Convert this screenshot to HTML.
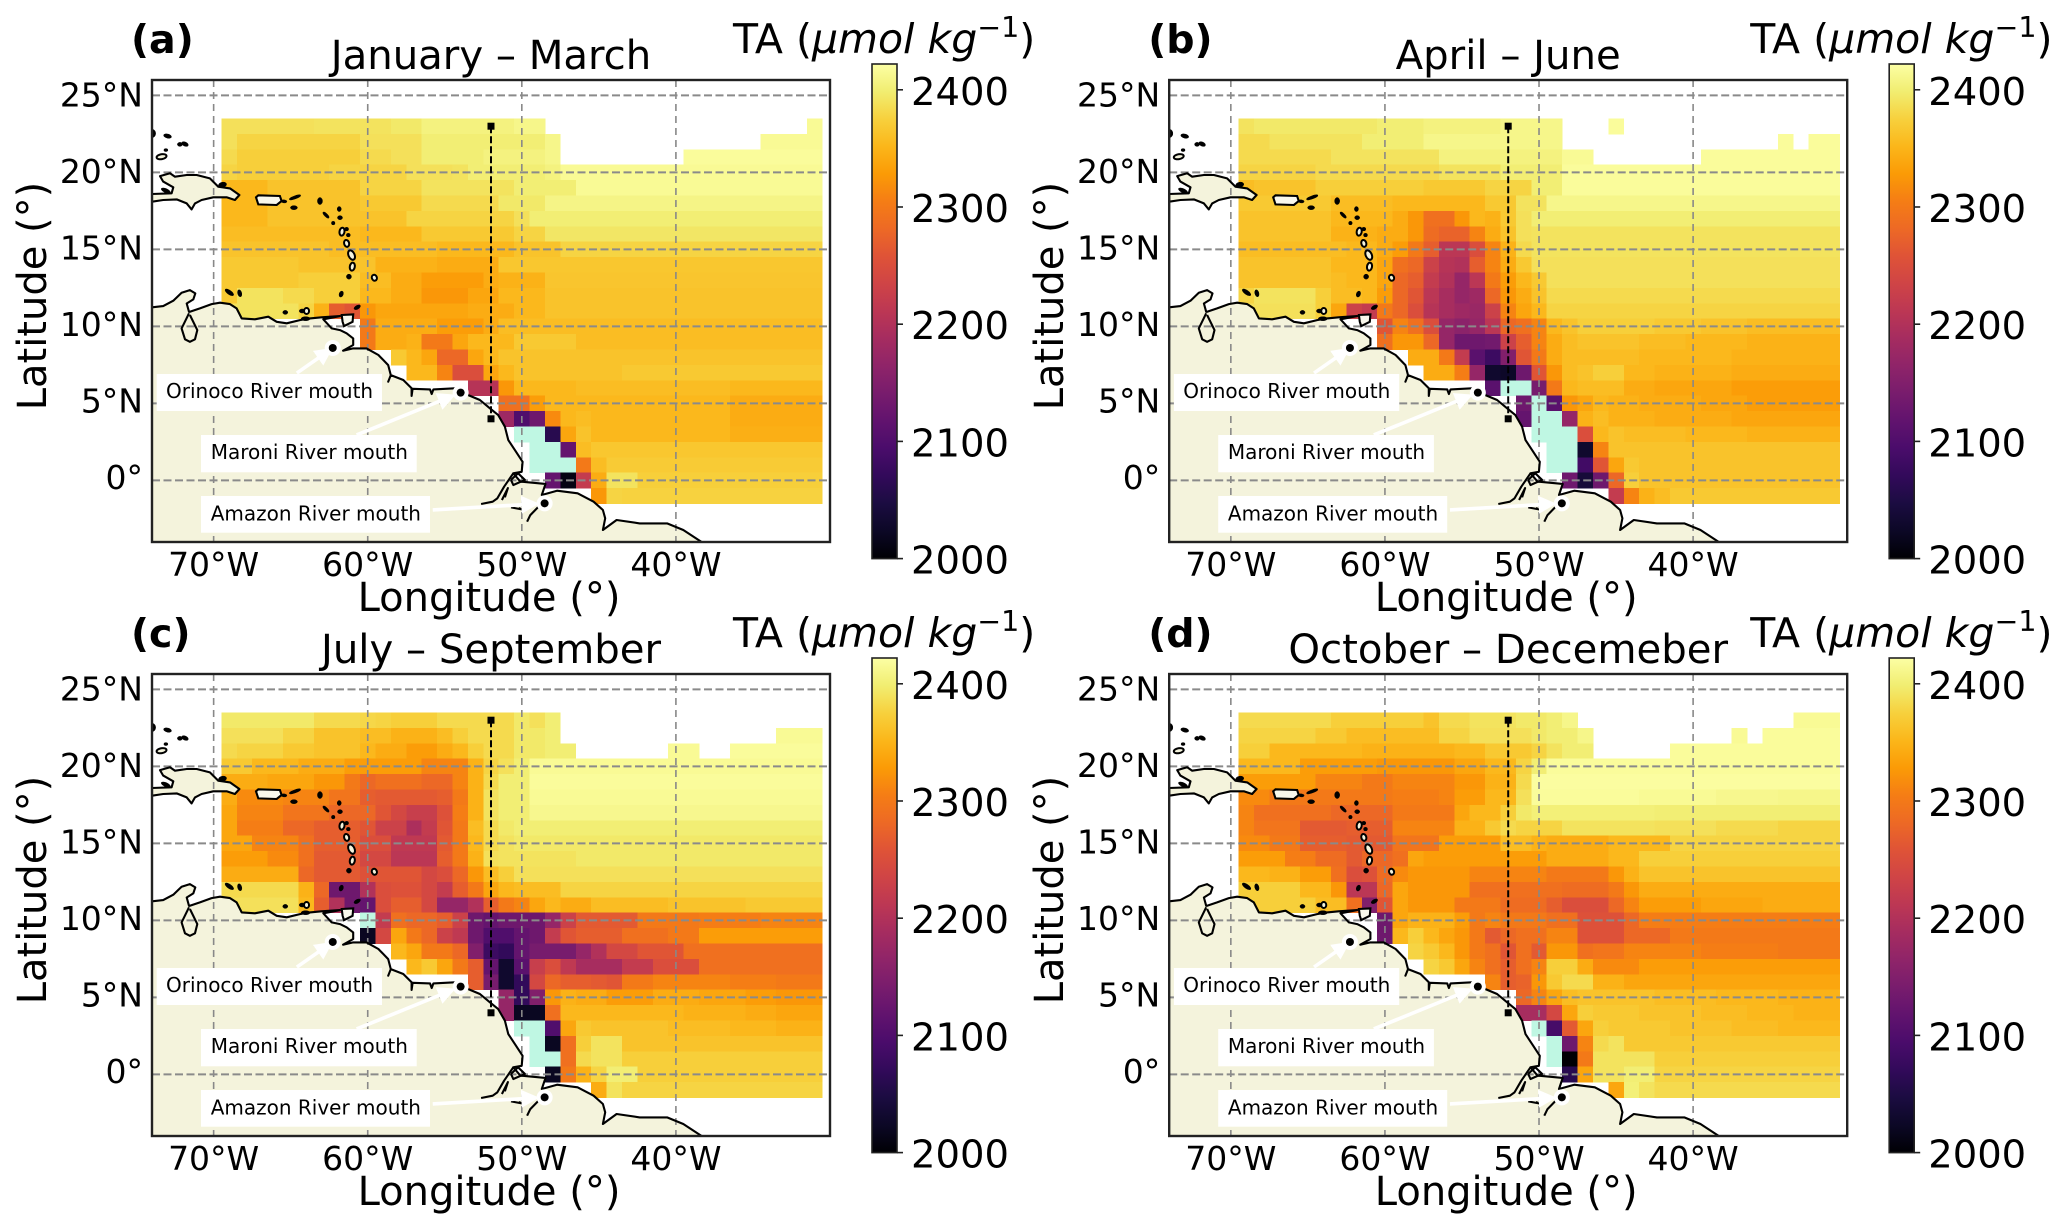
<!DOCTYPE html>
<html><head><meta charset="utf-8"><title>Total alkalinity seasonal maps</title>
<style>html,body{margin:0;padding:0;background:#fff}svg{display:block}text{font-family:"DejaVu Sans","Liberation Sans",sans-serif;fill:#000}</style></head>
<body><svg id="fig" xmlns="http://www.w3.org/2000/svg" width="2067" height="1232" viewBox="0 0 2067 1232"></svg>
<script>
// 0 = no data (white), 1900 = below colour range (pale teal). Rows: lat 23 to -1, columns: lon -69 to -31.
const panelA=[
[2388,2388,2388,2388,2388,2388,2390,2390,2390,2390,2390,2395,2395,2405,2405,2405,2405,2405,2405,2410,2410,0,0,0,0,0,0,0,0,0,0,0,0,0,0,0,0,0,2415],
[2388,2378,2378,2378,2378,2378,2378,2378,2378,2388,2388,2388,2388,2400,2400,2400,2400,2400,2400,2400,2400,2410,0,0,0,0,0,0,0,0,0,0,0,0,0,2415,2415,2415,2415],
[2383,2373,2373,2373,2373,2373,2373,2373,2373,2383,2383,2388,2388,2400,2400,2400,2400,2405,2405,2405,2405,2410,0,0,0,0,0,0,0,0,2418,2418,2418,2418,2418,2418,2418,2418,2418],
[2378,2373,2373,2373,2373,2373,2373,2378,2378,2378,2378,2378,2388,2388,2388,2390,2400,2400,2400,2400,2400,2405,2415,2415,2415,2415,2415,2415,2415,2415,2415,2415,2415,2415,2415,2415,2415,2415,2415],
[2353,2353,2353,2363,2363,2363,2363,2363,2363,2378,2378,2378,2378,2390,2390,2390,2390,2390,2390,2400,2400,2400,2400,2415,2415,2415,2415,2415,2415,2415,2415,2415,2415,2415,2415,2415,2415,2415,2415],
[2353,2353,2353,2363,2363,2363,2363,2363,2363,2368,2368,2368,2368,2383,2383,2383,2383,2383,2395,2395,2395,2408,2408,2408,2408,2408,2408,2408,2408,2408,2408,2408,2408,2408,2408,2408,2408,2408,2408],
[2353,2353,2353,2363,2363,2363,2363,2363,2363,2363,2363,2363,2378,2378,2378,2378,2378,2378,2378,2388,2400,2400,2400,2400,2400,2400,2400,2400,2400,2400,2400,2400,2400,2400,2400,2400,2400,2400,2400],
[2358,2358,2358,2358,2358,2358,2358,2358,2358,2353,2353,2353,2353,2368,2368,2368,2368,2368,2368,2378,2378,2393,2393,2393,2393,2393,2393,2393,2393,2393,2393,2393,2393,2393,2393,2393,2393,2393,2393],
[2363,2363,2363,2363,2363,2363,2363,2358,2358,2358,2358,2358,2358,2358,2353,2353,2353,2353,2353,2363,2363,2363,2378,2378,2378,2378,2378,2378,2378,2378,2378,2378,2378,2378,2378,2378,2378,2378,2378],
[2368,2368,2368,2368,2368,2363,2363,2363,2363,2363,2348,2348,2348,2348,2343,2343,2343,2343,2366,2366,2366,2366,2366,2366,2366,2366,2366,2366,2366,2366,2366,2366,2366,2366,2366,2366,2366,2366,2366],
[2368,2368,2368,2368,2368,2373,2373,2373,2373,2358,2358,2343,2343,2330,2330,2330,2330,2343,2348,2348,2348,2365,2365,2365,2365,2365,2365,2365,2365,2365,2365,2365,2365,2365,2365,2365,2365,2365,2365],
[2368,2390,2390,2390,2383,2383,2373,2373,2373,2353,2353,2343,2343,2325,2325,2325,2338,2338,2353,2353,2353,2363,2363,2363,2363,2363,2363,2363,2363,2363,2363,2363,2363,2363,2363,2363,2363,2363,2363],
[2390,2390,2390,2390,2390,2378,2348,2270,2260,2325,2338,2338,2338,2338,2338,2338,2343,2343,2343,2353,2353,2363,2363,2363,2363,2363,2363,2363,2363,2363,2363,2363,2363,2363,2363,2363,2363,2363,2363],
[0,0,0,0,0,0,0,0,0,2300,2343,2343,2343,2343,2330,2330,2330,2343,2358,2358,2358,2358,2358,2358,2358,2358,2358,2358,2358,2358,2358,2358,2358,2358,2358,2358,2358,2358,2358],
[0,0,0,0,0,0,0,0,0,2300,2343,2343,2348,2300,2300,2338,2353,2353,2353,2368,2368,2368,2368,2358,2358,2358,2358,2358,2358,2358,2358,2358,2358,2358,2358,2358,2358,2358,2358],
[0,0,0,0,0,0,0,0,0,0,0,2368,2353,2338,2280,2280,2338,2353,2363,2363,2363,2363,2363,2363,2363,2363,2363,2363,2363,2363,2363,2363,2363,2363,2363,2363,2363,2363,2363],
[0,0,0,0,0,0,0,0,0,0,0,0,2353,2353,2310,2250,2250,2338,2353,2363,2363,2363,2363,2363,2363,2363,2368,2368,2368,2368,2368,2368,2368,2368,2368,2368,2368,2368,2368],
[0,0,0,0,0,0,0,0,0,0,0,0,0,0,0,0,2205,2205,2325,2353,2353,2353,2353,2358,2358,2358,2358,2358,2358,2358,2358,2358,2358,2353,2353,2353,2353,2353,2353],
[0,0,0,0,0,0,0,0,0,0,0,0,0,0,0,0,0,0,2290,2290,2330,2353,2353,2353,2353,2353,2353,2353,2353,2353,2353,2353,2353,2343,2343,2343,2343,2343,2343],
[0,0,0,0,0,0,0,0,0,0,0,0,0,0,0,0,0,0,2180,2100,2130,2315,2353,2358,2353,2353,2353,2353,2353,2353,2353,2353,2353,2343,2343,2343,2343,2343,2343],
[0,0,0,0,0,0,0,0,0,0,0,0,0,0,0,0,0,0,0,1900,1900,2060,2338,2363,2353,2353,2353,2353,2353,2353,2353,2353,2353,2346,2346,2346,2346,2346,2346],
[0,0,0,0,0,0,0,0,0,0,0,0,0,0,0,0,0,0,0,0,1900,1900,2120,2358,2366,2366,2366,2366,2366,2366,2366,2366,2366,2366,2366,2366,2366,2366,2366],
[0,0,0,0,0,0,0,0,0,0,0,0,0,0,0,0,0,0,0,0,1900,1900,1900,2300,2358,2370,2370,2370,2370,2370,2370,2370,2370,2370,2370,2370,2370,2370,2370],
[0,0,0,0,0,0,0,0,0,0,0,0,0,0,0,0,0,0,0,0,0,2120,2010,2220,2343,2390,2390,2373,2373,2373,2373,2373,2373,2373,2373,2373,2373,2373,2373],
[0,0,0,0,0,0,0,0,0,0,0,0,0,0,0,0,0,0,0,0,0,0,0,0,2325,2378,2376,2376,2376,2376,2376,2376,2376,2376,2376,2376,2376,2376,2376]
];
const panelB=[
[2390,2395,2395,2395,2395,2395,2395,2395,2395,2400,2400,2400,2405,2405,2405,2405,2405,2410,2410,2410,2410,0,0,0,2418,0,0,0,0,0,0,0,0,0,0,0,0,0,0],
[2383,2383,2390,2390,2390,2390,2390,2390,2400,2400,2400,2400,2410,2410,2410,2410,2410,2410,2410,2410,2410,0,0,0,0,0,0,0,0,0,0,0,0,0,0,2418,0,2418,2418],
[2383,2383,2383,2383,2383,2383,2390,2390,2390,2390,2390,2390,2390,2405,2405,2405,2405,2405,2405,2405,2405,2415,2415,0,0,0,0,0,0,0,2418,2418,2418,2418,2418,2418,2418,2418,2418],
[2378,2378,2378,2378,2378,2383,2383,2383,2383,2383,2383,2383,2383,2390,2390,2390,2390,2400,2400,2400,2400,2418,2418,2418,2418,2418,2418,2418,2418,2418,2418,2418,2418,2418,2418,2418,2418,2418,2418],
[2358,2363,2363,2363,2363,2373,2373,2373,2373,2373,2373,2373,2368,2368,2368,2368,2378,2378,2378,2400,2400,2418,2418,2418,2418,2418,2418,2418,2418,2418,2418,2418,2418,2418,2418,2418,2418,2418,2418],
[2368,2368,2368,2368,2368,2368,2358,2358,2358,2358,2353,2353,2353,2353,2353,2353,2368,2368,2390,2390,2410,2410,2410,2410,2410,2410,2410,2410,2410,2410,2410,2410,2410,2410,2410,2410,2410,2410,2410],
[2363,2363,2363,2363,2363,2363,2353,2353,2353,2353,2343,2325,2290,2290,2325,2353,2348,2368,2388,2400,2400,2400,2400,2400,2400,2400,2400,2400,2400,2400,2400,2400,2400,2400,2400,2400,2400,2400,2400],
[2363,2363,2363,2363,2363,2363,2348,2348,2348,2343,2343,2325,2285,2275,2275,2310,2343,2363,2388,2390,2390,2390,2390,2390,2390,2390,2390,2390,2390,2390,2390,2390,2390,2390,2390,2390,2390,2390,2390],
[2358,2358,2358,2358,2358,2358,2358,2353,2353,2343,2330,2300,2270,2210,2210,2250,2310,2348,2383,2390,2390,2390,2390,2390,2390,2390,2390,2390,2390,2390,2390,2390,2390,2390,2390,2390,2390,2390,2390],
[2363,2363,2363,2363,2363,2363,2353,2353,2353,2338,2290,2280,2230,2205,2200,2270,2310,2343,2368,2388,2388,2388,2388,2388,2388,2388,2388,2388,2388,2388,2388,2388,2388,2388,2388,2388,2388,2388,2388],
[2363,2363,2363,2363,2363,2363,2358,2353,2353,2338,2280,2270,2220,2200,2170,2210,2300,2330,2353,2368,2388,2388,2388,2388,2388,2388,2388,2388,2388,2388,2388,2388,2388,2388,2388,2388,2388,2388,2388],
[2378,2390,2390,2390,2390,2373,2358,2358,2353,2330,2280,2260,2210,2190,2170,2180,2280,2325,2343,2363,2383,2383,2383,2383,2383,2383,2383,2383,2383,2383,2383,2383,2383,2383,2383,2383,2383,2383,2383],
[2388,2388,2388,2388,2388,2373,2338,2230,2220,2300,2280,2250,2205,2190,2180,2175,2230,2310,2338,2353,2378,2378,2378,2378,2378,2378,2378,2378,2378,2378,2378,2378,2378,2378,2378,2378,2378,2378,2378],
[0,0,0,0,0,0,0,0,0,2260,2310,2290,2250,2170,2160,2170,2210,2280,2290,2310,2353,2363,2373,2373,2373,2373,2373,2368,2368,2368,2363,2363,2363,2358,2358,2358,2358,2358,2358],
[0,0,0,0,0,0,0,0,0,2290,2325,2325,2280,2170,2130,2130,2135,2230,2270,2310,2343,2358,2363,2363,2363,2363,2358,2358,2358,2353,2353,2353,2353,2348,2348,2348,2348,2348,2348],
[0,0,0,0,0,0,0,0,0,0,0,2343,2343,2300,2220,2110,2080,2150,2260,2300,2343,2358,2358,2358,2358,2358,2353,2353,2353,2353,2353,2353,2348,2348,2348,2348,2348,2348,2348],
[0,0,0,0,0,0,0,0,0,0,0,0,2343,2343,2305,2170,2030,2025,2130,2260,2325,2358,2363,2373,2373,2353,2353,2348,2348,2348,2348,2348,2343,2343,2343,2343,2343,2343,2343],
[0,0,0,0,0,0,0,0,0,0,0,0,0,0,0,0,2110,1900,1900,2140,2300,2353,2358,2358,2358,2343,2343,2338,2338,2338,2338,2338,2330,2330,2330,2330,2330,2330,2330],
[0,0,0,0,0,0,0,0,0,0,0,0,0,0,0,0,0,0,2130,1900,2110,2325,2338,2353,2348,2348,2343,2343,2343,2343,2338,2338,2338,2330,2330,2330,2330,2330,2330],
[0,0,0,0,0,0,0,0,0,0,0,0,0,0,0,0,0,0,2120,1900,1900,2170,2348,2358,2348,2348,2348,2343,2343,2343,2343,2343,2338,2338,2338,2338,2338,2338,2338],
[0,0,0,0,0,0,0,0,0,0,0,0,0,0,0,0,0,0,0,1900,1900,1900,2250,2353,2363,2358,2358,2358,2358,2353,2353,2353,2353,2348,2348,2348,2348,2348,2348],
[0,0,0,0,0,0,0,0,0,0,0,0,0,0,0,0,0,0,0,0,1900,1900,2030,2310,2363,2363,2363,2363,2363,2363,2363,2363,2363,2363,2363,2363,2363,2363,2363],
[0,0,0,0,0,0,0,0,0,0,0,0,0,0,0,0,0,0,0,0,1900,1900,2085,2260,2338,2368,2363,2363,2363,2363,2363,2363,2363,2363,2363,2363,2363,2363,2363],
[0,0,0,0,0,0,0,0,0,0,0,0,0,0,0,0,0,0,0,0,0,2130,2040,2130,2280,2373,2363,2363,2363,2363,2363,2363,2363,2363,2363,2363,2363,2363,2363],
[0,0,0,0,0,0,0,0,0,0,0,0,0,0,0,0,0,0,0,0,0,0,0,0,2220,2310,2348,2358,2368,2368,2368,2368,2368,2368,2368,2368,2368,2368,2368]
];
const panelC=[
[2395,2395,2395,2395,2395,2395,2383,2383,2383,2380,2378,2373,2373,2373,2383,2383,2383,2383,2383,2395,2388,2400,0,0,0,0,0,0,0,0,0,0,0,0,0,0,0,0,0],
[2388,2388,2388,2388,2378,2378,2363,2363,2363,2358,2358,2348,2348,2348,2358,2373,2383,2383,2383,2395,2395,2400,0,0,0,0,0,0,0,0,0,0,0,0,0,0,2415,2415,2415],
[2383,2378,2378,2378,2368,2368,2363,2363,2363,2353,2343,2343,2330,2330,2343,2353,2373,2383,2383,2395,2395,2400,2400,0,0,0,0,0,0,2415,2415,0,0,2418,2418,2418,2418,2418,2418],
[2368,2368,2353,2353,2353,2343,2343,2343,2330,2330,2330,2330,2330,2310,2310,2310,2348,2378,2388,2400,2415,2415,2415,2415,2415,2415,2415,2415,2415,2415,2415,2415,2415,2415,2415,2415,2415,2415,2415],
[2343,2343,2343,2338,2338,2338,2325,2325,2300,2280,2290,2290,2290,2280,2280,2310,2348,2383,2400,2400,2418,2418,2418,2418,2418,2418,2418,2418,2418,2418,2418,2418,2418,2418,2418,2418,2418,2418,2418],
[2343,2315,2315,2315,2310,2310,2310,2295,2295,2270,2265,2265,2265,2265,2270,2300,2348,2390,2400,2400,2415,2415,2415,2415,2415,2415,2415,2415,2415,2415,2415,2415,2415,2415,2415,2415,2415,2415,2415],
[2338,2310,2310,2310,2295,2295,2295,2280,2280,2280,2260,2240,2225,2225,2255,2305,2348,2390,2400,2400,2412,2412,2412,2412,2412,2412,2412,2412,2412,2412,2412,2412,2412,2412,2412,2412,2412,2412,2412],
[2338,2305,2305,2305,2280,2280,2270,2270,2270,2260,2230,2230,2195,2220,2260,2300,2358,2383,2395,2400,2400,2400,2400,2400,2400,2400,2400,2400,2400,2400,2400,2400,2400,2400,2400,2400,2400,2400,2400],
[2338,2338,2310,2310,2310,2290,2270,2270,2270,2250,2250,2215,2215,2215,2265,2300,2353,2383,2390,2395,2395,2395,2395,2395,2395,2395,2395,2395,2395,2395,2395,2395,2395,2395,2395,2395,2395,2395,2395],
[2330,2330,2330,2315,2315,2290,2265,2265,2265,2240,2240,2210,2210,2210,2270,2300,2348,2388,2390,2390,2390,2390,2390,2395,2395,2395,2395,2395,2395,2395,2395,2395,2395,2395,2395,2395,2395,2395,2395],
[2343,2343,2343,2343,2343,2280,2265,2265,2265,2255,2260,2260,2260,2240,2250,2280,2325,2358,2373,2388,2388,2388,2388,2388,2388,2388,2388,2388,2388,2388,2388,2388,2388,2388,2388,2388,2388,2388,2388],
[2383,2383,2383,2383,2383,2348,2280,2130,2130,2200,2250,2255,2255,2240,2220,2270,2300,2338,2353,2358,2358,2358,2378,2378,2378,2378,2378,2378,2378,2378,2378,2378,2378,2378,2378,2378,2378,2378,2378],
[2388,2388,2388,2388,2388,2353,2270,2200,2130,2120,2250,2270,2270,2240,2170,2170,2200,2270,2300,2310,2338,2353,2343,2343,2358,2358,2358,2358,2358,2363,2363,2363,2363,2363,2368,2368,2368,2368,2368],
[0,0,0,0,0,0,0,0,0,1900,2220,2290,2280,2280,2270,2230,2130,2120,2130,2130,2130,2170,2230,2265,2265,2265,2265,2300,2300,2300,2300,2305,2305,2305,2305,2310,2310,2310,2310],
[0,0,0,0,0,0,0,0,0,2020,2240,2338,2300,2280,2230,2215,2130,2100,2100,2120,2130,2220,2260,2270,2270,2270,2290,2290,2290,2300,2300,2330,2330,2330,2330,2330,2330,2330,2330],
[0,0,0,0,0,0,0,0,0,0,0,2353,2338,2300,2300,2280,2150,2080,2070,2120,2140,2140,2140,2170,2200,2240,2240,2260,2260,2260,2290,2290,2290,2290,2290,2290,2290,2290,2290],
[0,0,0,0,0,0,0,0,0,0,0,0,2353,2368,2338,2300,2270,2120,2030,2110,2225,2250,2215,2190,2190,2190,2220,2220,2250,2250,2250,2290,2290,2290,2290,2290,2290,2290,2290],
[0,0,0,0,0,0,0,0,0,0,0,0,0,0,0,0,2270,2140,2030,2070,2240,2280,2270,2270,2265,2260,2300,2300,2310,2310,2310,2310,2310,2305,2305,2305,2300,2300,2300],
[0,0,0,0,0,0,0,0,0,0,0,0,0,0,0,0,0,0,2170,2070,2150,2325,2348,2343,2343,2330,2330,2330,2343,2343,2343,2338,2338,2338,2330,2330,2325,2325,2325],
[0,0,0,0,0,0,0,0,0,0,0,0,0,0,0,0,0,0,2170,2020,2020,2290,2353,2353,2353,2353,2353,2353,2353,2353,2348,2348,2348,2348,2343,2343,2338,2338,2338],
[0,0,0,0,0,0,0,0,0,0,0,0,0,0,0,0,0,0,0,1900,1900,2100,2338,2368,2363,2363,2363,2363,2363,2358,2358,2358,2358,2353,2353,2353,2348,2348,2348],
[0,0,0,0,0,0,0,0,0,0,0,0,0,0,0,0,0,0,0,0,1900,2020,2290,2373,2390,2390,2363,2363,2363,2363,2363,2363,2363,2363,2363,2363,2363,2363,2363],
[0,0,0,0,0,0,0,0,0,0,0,0,0,0,0,0,0,0,0,0,1900,1900,2290,2383,2390,2390,2373,2373,2373,2373,2373,2373,2373,2373,2373,2373,2373,2373,2373],
[0,0,0,0,0,0,0,0,0,0,0,0,0,0,0,0,0,0,0,0,0,2020,2300,2348,2378,2400,2400,2373,2373,2373,2373,2373,2373,2373,2373,2373,2373,2373,2373],
[0,0,0,0,0,0,0,0,0,0,0,0,0,0,0,0,0,0,0,0,0,0,0,0,2343,2390,2378,2378,2378,2378,2378,2378,2378,2378,2378,2378,2378,2378,2378]
];
const panelD=[
[2383,2383,2383,2383,2383,2383,2373,2373,2373,2373,2373,2373,2363,2383,2383,2390,2390,2390,2395,2395,2400,2410,0,0,0,0,0,0,0,0,0,0,0,0,0,0,2415,2415,2415],
[2378,2378,2378,2378,2378,2368,2368,2358,2358,2358,2358,2358,2358,2378,2378,2388,2388,2388,2388,2395,2400,2400,2410,0,0,0,0,0,0,0,0,0,2415,0,2418,2418,2418,2418,2418],
[2373,2373,2353,2353,2353,2353,2353,2353,2348,2348,2348,2348,2348,2348,2353,2353,2368,2368,2368,2378,2390,2400,2400,0,0,0,0,0,2418,2418,2418,2418,2418,2418,2418,2418,2418,2418,2418],
[2353,2353,2353,2353,2330,2330,2330,2330,2330,2325,2325,2325,2325,2325,2338,2338,2353,2353,2378,2400,2418,2418,2418,2418,2418,2418,2418,2418,2418,2418,2418,2418,2418,2418,2418,2418,2418,2418,2418],
[2330,2330,2330,2330,2330,2310,2310,2310,2300,2300,2310,2310,2310,2310,2325,2325,2348,2348,2383,2420,2420,2420,2420,2420,2420,2420,2420,2420,2420,2420,2420,2420,2420,2420,2420,2420,2420,2420,2420],
[2315,2315,2300,2300,2300,2300,2300,2300,2300,2300,2305,2305,2305,2310,2330,2330,2353,2353,2388,2418,2418,2418,2418,2418,2418,2418,2415,2415,2415,2415,2415,2412,2412,2412,2412,2410,2410,2410,2410],
[2310,2290,2290,2290,2290,2290,2280,2280,2280,2280,2300,2300,2300,2300,2338,2353,2353,2373,2395,2402,2402,2402,2402,2402,2402,2402,2402,2400,2400,2400,2400,2400,2400,2400,2400,2400,2400,2400,2400],
[2310,2295,2295,2295,2265,2265,2265,2270,2270,2270,2310,2310,2310,2310,2348,2348,2368,2383,2378,2378,2378,2390,2390,2390,2390,2390,2390,2388,2388,2388,2388,2383,2383,2383,2383,2378,2378,2378,2378],
[2315,2315,2300,2300,2270,2270,2270,2265,2265,2265,2295,2295,2295,2330,2330,2330,2330,2358,2358,2348,2343,2343,2343,2343,2353,2353,2353,2353,2378,2378,2378,2378,2378,2378,2378,2378,2378,2378,2378],
[2330,2330,2330,2305,2305,2285,2285,2265,2280,2280,2290,2338,2330,2330,2330,2330,2330,2330,2330,2330,2343,2343,2343,2343,2353,2353,2373,2373,2373,2373,2373,2373,2373,2373,2373,2373,2373,2373,2373],
[2353,2353,2348,2348,2330,2330,2290,2250,2255,2285,2315,2325,2325,2325,2325,2310,2310,2310,2310,2310,2300,2300,2300,2300,2325,2348,2363,2363,2363,2363,2363,2363,2363,2363,2363,2363,2363,2363,2363],
[2373,2373,2373,2373,2353,2353,2325,2210,2210,2280,2338,2325,2325,2325,2325,2290,2290,2290,2290,2290,2290,2285,2285,2285,2300,2325,2343,2343,2343,2343,2343,2343,2343,2343,2343,2343,2343,2343,2343],
[2373,2373,2373,2373,2373,2358,2358,2290,2150,2260,2338,2325,2325,2325,2300,2300,2300,2285,2285,2285,2270,2250,2250,2250,2280,2310,2330,2330,2330,2330,2338,2338,2338,2338,2343,2343,2343,2343,2343],
[0,0,0,0,0,0,0,0,0,2130,2338,2348,2348,2348,2330,2300,2310,2300,2300,2300,2290,2290,2255,2255,2255,2280,2305,2305,2305,2305,2305,2305,2305,2305,2305,2305,2305,2305,2305],
[0,0,0,0,0,0,0,0,0,2130,2353,2373,2353,2338,2325,2300,2265,2280,2290,2290,2310,2310,2255,2255,2255,2280,2280,2280,2300,2300,2300,2300,2300,2300,2300,2300,2300,2300,2300],
[0,0,0,0,0,0,0,0,0,0,0,2378,2368,2353,2325,2300,2290,2260,2290,2265,2325,2325,2290,2295,2295,2310,2310,2310,2310,2310,2305,2305,2305,2305,2305,2300,2300,2300,2300],
[0,0,0,0,0,0,0,0,0,0,0,0,2378,2368,2338,2310,2290,2270,2290,2310,2373,2373,2343,2315,2315,2315,2330,2330,2330,2330,2330,2330,2330,2330,2330,2330,2330,2330,2330],
[0,0,0,0,0,0,0,0,0,0,0,0,0,0,0,0,2310,2270,2275,2325,2368,2383,2383,2348,2348,2338,2338,2338,2338,2338,2338,2338,2338,2338,2338,2338,2338,2338,2338],
[0,0,0,0,0,0,0,0,0,0,0,0,0,0,0,0,0,0,2280,2310,2338,2358,2363,2363,2363,2363,2363,2358,2358,2358,2358,2353,2353,2353,2353,2348,2348,2348,2348],
[0,0,0,0,0,0,0,0,0,0,0,0,0,0,0,0,0,0,2190,2190,2240,2338,2373,2368,2368,2368,2363,2363,2363,2363,2358,2358,2358,2353,2353,2353,2348,2348,2348],
[0,0,0,0,0,0,0,0,0,0,0,0,0,0,0,0,0,0,0,1900,2090,2265,2338,2373,2368,2368,2368,2368,2363,2363,2363,2363,2358,2358,2358,2353,2353,2353,2353],
[0,0,0,0,0,0,0,0,0,0,0,0,0,0,0,0,0,0,0,0,1900,2130,2310,2383,2390,2368,2368,2368,2368,2368,2368,2368,2368,2368,2368,2368,2368,2368,2368],
[0,0,0,0,0,0,0,0,0,0,0,0,0,0,0,0,0,0,0,0,1900,2000,2300,2390,2390,2390,2390,2373,2373,2373,2373,2373,2373,2373,2373,2373,2373,2373,2373],
[0,0,0,0,0,0,0,0,0,0,0,0,0,0,0,0,0,0,0,0,0,2060,2338,2390,2390,2400,2400,2378,2378,2378,2378,2378,2378,2378,2378,2378,2378,2378,2378],
[0,0,0,0,0,0,0,0,0,0,0,0,0,0,0,0,0,0,0,0,0,0,0,0,2338,2402,2390,2383,2383,2383,2383,2383,2383,2383,2383,2383,2383,2383,2383]
];
const panelLetters=['(a)','(b)','(c)','(d)'];
const panelTitles=['January \u2013 March','April \u2013 June','July \u2013 September','October \u2013 Decemeber'];
const latTicks=[25,20,15,10,5,0];
const latTickLabels=['25\u00B0N','20\u00B0N','15\u00B0N','10\u00B0N','5\u00B0N','0\u00B0'];
const lonTicks=[-70,-60,-50,-40];
const lonTickLabels=['70\u00B0W','60\u00B0W','50\u00B0W','40\u00B0W'];
const colorTicks=[2000,2100,2200,2300,2400];
const riverNames=['Orinoco River mouth','Maroni River mouth','Amazon River mouth'];
const riverMouths=[[-62.27,8.6],[-53.97,5.7],[-48.52,-1.49]];
const riverArrowStarts=[[-64.6,6.97],[-60.72,2.95],[-55.78,-1.92]];
const transectLon=-52, transectLats=[23,4];
const infernoStops=['#000004','#0c0826','#1b0c41','#320a5a','#4a0c6b','#61136e','#781c6d','#8f2469','#a52c60','#bc3754','#cf4446','#df5337','#ed6925','#f57d15','#fb9b06','#fbb61a','#f7d13d','#f1ed71','#fcffa4'];
const mainCoast=[[-74,11.24],[-73.27,11.32],[-72.62,11.67],[-72.08,12.19],[-71.54,12.36],[-71.19,12.14],[-71.32,11.75],[-71.75,11.49],[-71.6,10.95],[-71.54,10.95],[-70.89,11.17],[-70.13,11.45],[-69.59,11.54],[-68.94,11.45],[-68.51,11.17],[-68.18,10.52],[-67.32,10.46],[-66.45,10.63],[-65.91,10.3],[-65.26,10.2],[-64.4,10.41],[-63.75,10.52],[-63,10.59],[-61.8,10.67],[-62.88,10.46],[-62.34,9.87],[-61.8,9.76],[-61.37,9.55],[-60.94,9.22],[-60.94,8.79],[-61.6,8.42],[-60.94,8.57],[-60.07,8.57],[-59.31,8.14],[-58.67,7.49],[-58.5,6.84],[-58.67,6.41],[-58.5,6.84],[-57.69,6.52],[-57.15,5.98],[-57.15,5.48],[-57.09,5.95],[-55.96,5.91],[-55.85,5.61],[-55.74,5.91],[-54.34,5.98],[-53.47,5.54],[-52.72,5.22],[-52.07,4.68],[-51.53,4.24],[-51.1,3.49],[-50.88,2.62],[-50.45,1.97],[-49.95,1.21],[-50.01,0.56],[-50.55,0.46],[-50.1,-0.08],[-48.46,-0.23],[-48.7,-0.95],[-47.72,-0.67],[-46.38,-0.84],[-45.34,-1.38],[-44.74,-1.92],[-44.59,-2.46],[-44.74,-3.22],[-43.85,-2.57],[-42.35,-2.79],[-40.57,-2.79],[-39.52,-3.22],[-38.33,-4]];
const landCorners=[[-38.33,-4],[-74,-4]];
const maracaibo=[[-71.6,10.85],[-72.08,9.87],[-71.86,9.16],[-71.54,9],[-71.21,9.16],[-71.06,9.76],[-71.54,10.74]];
const deltaLines=[[[-50.55,0.46],[-51.15,-0.41],[-51.59,-1.17],[-51.89,-1.38],[-52.64,-1.53]],[[-50.7,0.03],[-50.25,0.46],[-49.8,0.03],[-50.55,-0.3],[-50.7,0.03]],[[-51.29,-1.27],[-50.9,-0.5],[-51.1,-1.1]],[[-50.7,-1.75],[-49.8,-1.92],[-50.2,-1.8]],[[-48.91,-1.7],[-49.45,-2.25],[-49.66,-2.68]]];
const hispaniola=[[-74,18.6],[-72.73,18.64],[-72.62,19.03],[-73.27,19.4],[-73.48,19.76],[-72.83,19.94],[-72.51,19.72],[-71.75,19.83],[-71.1,19.83],[-70.24,19.61],[-69.7,19.07],[-68.94,18.96],[-68.33,18.53],[-68.62,18.21],[-69.16,18.38],[-70.02,18.38],[-70.78,18.21],[-71.21,17.99],[-71.43,17.6],[-71.75,17.99],[-72.4,18.25],[-73.27,18.21],[-74,18.1]];
const puertoRico=[[-67.25,18.38],[-67.1,18.51],[-65.7,18.47],[-65.59,18.14],[-65.91,17.88],[-67.1,17.92]];
const trinidad=[[-61.69,10.74],[-60.94,10.78],[-60.98,10.3],[-61.54,10.02],[-61.63,10.3]];
// [lon, lat, half-length px, half-width px, rotation deg, outlined?]
const smallIslands=[[-73.96,22.53,3,4,0,0],[-72.99,22.36,4,2,15,0],[-72.19,21.82,2.5,2,0,0],[-71.86,21.84,3.5,2,25,0],[-73.38,21.02,5,2.5,-10,1],[-73.1,21.45,2,1.5,0,0],[-69.42,19.2,4,2.5,-10,0],[-73.1,18.81,5,2,25,0],[-65.44,18.12,3,1.5,5,0],[-64.72,18.38,6,1.5,-20,0],[-64.79,17.71,3.5,2,0,0],[-63.1,18.14,2.5,3.5,0,0],[-61.85,17.62,2,2.5,0,0],[-62.71,17.23,4,1.5,45,0],[-61.8,17.06,2.5,2,0,0],[-62.24,16.71,1.8,1.8,0,0],[-61.67,16.15,2.5,4,10,1],[-61.37,16.32,2,1.8,0,0],[-61.26,15.93,2,1.8,0,0],[-61.37,15.39,2.5,3.5,-15,1],[-61.05,14.63,3,5,-25,1],[-61,13.88,2.5,4,10,1],[-61.22,13.23,2.5,2.5,0,0],[-59.57,13.16,2.5,3,-20,1],[-61.72,12.1,2,3,20,0],[-68.98,12.21,5,2,35,0],[-68.31,12.15,2,3.5,-15,0],[-65.35,10.91,2.5,2,0,0],[-64.25,11,3,2,0,0],[-63.97,11,2.5,3,0,1],[-60.68,11.24,3.5,1.8,-30,0],[-64.03,10.5,4.5,2,0,0]];

const SVGNS='http://www.w3.org/2000/svg';
const lonMin=-74,lonMax=-30,latMin=-4,latMax=26,axW=678,axH=462;
const cbMin=2000,cbMax=2422,cbY0=-16,cbH=494.6,cbX=720,cbW=25;
const origins=[[152,80],[1169.2,80],[152,674],[1169.2,674]];
const xOf=lon=>(lon-lonMin)/(lonMax-lonMin)*axW;
const yOf=lat=>(latMax-lat)/(latMax-latMin)*axH;
const cbOf=v=>cbY0+cbH*(cbMax-v)/(cbMax-cbMin);
function hex(c){return[parseInt(c.slice(1,3),16),parseInt(c.slice(3,5),16),parseInt(c.slice(5,7),16)];}
function inferno(t){t=Math.max(0,Math.min(1,t));const p=t*(infernoStops.length-1),i=Math.min(Math.floor(p),infernoStops.length-2),f=p-i,a=hex(infernoStops[i]),b=hex(infernoStops[i+1]);return'rgb('+a.map((v,k)=>Math.round(v+(b[k]-v)*f)).join(',')+')';}
function colorOf(v){return v<cbMin?'#bff7e3':inferno((v-cbMin)/(cbMax-cbMin));}
function mk(tag,attrs,parent,name){
  const el=document.createElementNS(SVGNS,tag);
  for(const k in attrs)el.setAttribute(k,attrs[k]);
  
  
  parent.appendChild(el);
  return el;
}
function pts(a){return a.map(p=>xOf(p[0]).toFixed(1)+','+yOf(p[1]).toFixed(1)).join(' ');}
const fig=document.getElementById('fig');
const defs=document.createElementNS(SVGNS,'defs');
fig.appendChild(defs);
const grad=document.createElementNS(SVGNS,'linearGradient');
grad.setAttribute('id','cbGrad');grad.setAttribute('x1','0');grad.setAttribute('y1','1');grad.setAttribute('x2','0');grad.setAttribute('y2','0');
infernoStops.forEach((c,i)=>{const s=document.createElementNS(SVGNS,'stop');s.setAttribute('offset',i/(infernoStops.length-1));s.setAttribute('stop-color',c);grad.appendChild(s);});
defs.appendChild(grad);
const clip=document.createElementNS(SVGNS,'clipPath');
clip.setAttribute('id','axClip');
const clipR=document.createElementNS(SVGNS,'rect');
clipR.setAttribute('width',axW);clipR.setAttribute('height',axH);
clip.appendChild(clipR);defs.appendChild(clip);
const arrowM=document.createElementNS(SVGNS,'marker');
arrowM.setAttribute('id','wArrow');arrowM.setAttribute('markerWidth','5');arrowM.setAttribute('markerHeight','5');arrowM.setAttribute('refX','4');arrowM.setAttribute('refY','2.5');arrowM.setAttribute('orient','auto');
const arrowP=document.createElementNS(SVGNS,'path');
arrowP.setAttribute('d','M0,0L5,2.5L0,5Z');arrowP.setAttribute('fill','#fff');
arrowM.appendChild(arrowP);defs.appendChild(arrowM);

const panels=[panelA,panelB,panelC,panelD];
panels.forEach((grid,pi)=>{
  const g=mk('g',{transform:'translate('+origins[pi][0]+','+origins[pi][1]+')'},fig,'panel-'+'abcd'[pi]);
  const map=mk('g',{'clip-path':'url(#axClip)'},g,'map-area');
  const cells=mk('g',{'shape-rendering':'crispEdges'},map,'ta-heatmap');
  grid.forEach((row,r)=>{
    const lat=23-r;
    row.forEach((v,c)=>{
      if(!v)return;
      const lon=-69+c;
      const x0=xOf(lon-0.5),y0=yOf(lat+0.5);
      mk('rect',{x:x0.toFixed(2),y:y0.toFixed(2),width:(xOf(lon+0.5)-x0+0.4).toFixed(2),height:(yOf(lat-0.5)-y0+0.4).toFixed(2),fill:colorOf(v)},cells,'ta-cell');
    });
  });
  mk('polygon',{points:pts(mainCoast.concat(landCorners)),fill:'#f4f3dc',stroke:'none'},map,'south-america-land');
  mk('polygon',{points:pts(hispaniola),fill:'#f4f3dc',stroke:'none'},map,'hispaniola-land');
  lonTicks.forEach(t=>{mk('line',{x1:xOf(t),x2:xOf(t),y1:0,y2:axH,stroke:'#888',"stroke-width":1.6,"stroke-dasharray":'7 5'},map,'longitude-gridline');});
  latTicks.forEach(t=>{mk('line',{x1:0,x2:axW,y1:yOf(t),y2:yOf(t),stroke:'#8a8a8a',"stroke-width":2,"stroke-dasharray":'8 3.5'},map,'latitude-gridline');});
  const cs={fill:'none',stroke:'#000',"stroke-width":2.1,"stroke-linejoin":'round'};
  mk('polyline',Object.assign({points:pts(mainCoast)},cs),map,'south-america-coastline');
  mk('polyline',Object.assign({points:pts(maracaibo)},cs),map,'lake-maracaibo-outline');
  deltaLines.forEach(d=>{mk('polyline',Object.assign({points:pts(d)},cs),map,'amazon-delta-coast');});
  mk('polygon',Object.assign({points:pts(hispaniola)},cs),map,'hispaniola-coastline');
  mk('polygon',{points:pts(puertoRico),fill:'#f9f8ec',stroke:'#000',"stroke-width":2.1},map,'puerto-rico');
  mk('polygon',{points:pts(trinidad),fill:'#f9f8ec',stroke:'#000',"stroke-width":2.1},map,'trinidad');
  smallIslands.forEach(s=>{
    const x=xOf(s[0]),y=yOf(s[1]);
    mk('ellipse',{cx:x,cy:y,rx:s[2],ry:s[3],transform:'rotate('+s[4]+' '+x+' '+y+')',fill:s[5]?'#f4f3dc':'#000',stroke:'#000',"stroke-width":s[5]?2:0.5},map,'small-island');
  });
  mk('line',{x1:xOf(transectLon),x2:xOf(transectLon),y1:yOf(transectLats[0]),y2:yOf(transectLats[1]),stroke:'#000',"stroke-width":2,"stroke-dasharray":'7 3'},map,'transect-line');
  transectLats.forEach(la=>{mk('rect',{x:xOf(transectLon)-3.5,y:yOf(la)-3.5,width:7,height:7,fill:'#000'},map,'transect-endpoint');});
  // river annotations
  const boxes=[[4.7,294,225.3,37,14,318],[49,355,215.7,37.3,58.7,379],[49,416,229,36.7,58.7,440.7]];
  riverNames.forEach((nm,i)=>{
    const m=riverMouths[i],s=riverArrowStarts[i];
    mk('line',{x1:xOf(s[0]),y1:yOf(s[1]),x2:xOf(m[0])-(xOf(m[0])-xOf(s[0]))*0.08,y2:yOf(m[1])-(yOf(m[1])-yOf(s[1]))*0.08,stroke:'#fff',"stroke-width":3.6,'marker-end':'url(#wArrow)'},g,'river-arrow');
    mk('circle',{cx:xOf(m[0]),cy:yOf(m[1]),r:8,fill:'#fff'},g,'river-mouth-halo');
    mk('circle',{cx:xOf(m[0]),cy:yOf(m[1]),r:4,fill:'#000'},g,'river-mouth-marker');
    mk('rect',{x:boxes[i][0],y:boxes[i][1],width:boxes[i][2],height:boxes[i][3],fill:'#fff'},g,'river-label-box');
    const t=mk('text',{x:boxes[i][4],y:boxes[i][5],"font-size":20},g,'river-label');
    t.textContent=nm;
  });
  mk('rect',{x:0,y:0,width:axW,height:axH,fill:'none',stroke:'#222',"stroke-width":2.4},g,'axes-frame');
  // axis text
  latTicks.forEach((t,i)=>{
    const lb=mk('text',{x:-9,y:yOf(t)+11-i*0.5,"text-anchor":'end',"font-size":33},g,'latitude-tick-label');
    lb.textContent=latTickLabels[i];
  });
  lonTicks.forEach((t,i)=>{
    const lb=mk('text',{x:xOf(t),y:496,"text-anchor":'middle',"font-size":33},g,'longitude-tick-label');
    lb.textContent=lonTickLabels[i];
  });
  const xl=mk('text',{x:337,y:531,"text-anchor":'middle',"font-size":40},g,'x-axis-title');
  xl.textContent='Longitude (\u00B0)';
  const yl=mk('text',{x:0,y:0,transform:'translate(-106,216) rotate(-90)',"text-anchor":'middle',"font-size":40},g,'y-axis-title');
  yl.textContent='Latitude (\u00B0)';
  const ttl=mk('text',{x:339,y:-11,"text-anchor":'middle',"font-size":40.2},g,'panel-title');
  ttl.textContent=panelTitles[pi];
  const let_=mk('text',{x:-21,y:-27,"font-size":39.5,"font-weight":'bold'},g,'panel-letter');
  let_.textContent=panelLetters[pi];
  // colorbar
  mk('rect',{x:cbX,y:cbY0,width:cbW,height:cbH,fill:'url(#cbGrad)',stroke:'#222',"stroke-width":1.6},g,'colorbar');
  colorTicks.forEach(v=>{
    mk('line',{x1:cbX+cbW,x2:cbX+cbW+6,y1:cbOf(v),y2:cbOf(v),stroke:'#222',"stroke-width":1.6},g,'colorbar-tick');
    const lb=mk('text',{x:cbX+cbW+14,y:cbOf(v)+15,"font-size":38.5},g,'colorbar-tick-label');
    lb.textContent=v;
  });
  const cl=mk('text',{x:581,y:-27,"font-size":41},g,'colorbar-title');
  const a1=document.createElementNS(SVGNS,'tspan');a1.textContent='TA (';cl.appendChild(a1);
  const a2=document.createElementNS(SVGNS,'tspan');a2.setAttribute('font-style','italic');a2.textContent='\u03BCmol kg';cl.appendChild(a2);
  const a3=document.createElementNS(SVGNS,'tspan');a3.setAttribute('font-size','28.5');a3.setAttribute('dy','-16');a3.textContent='\u22121';cl.appendChild(a3);
  const a4=document.createElementNS(SVGNS,'tspan');a4.setAttribute('dy','16');a4.textContent=')';cl.appendChild(a4);
});
</script></body></html>
